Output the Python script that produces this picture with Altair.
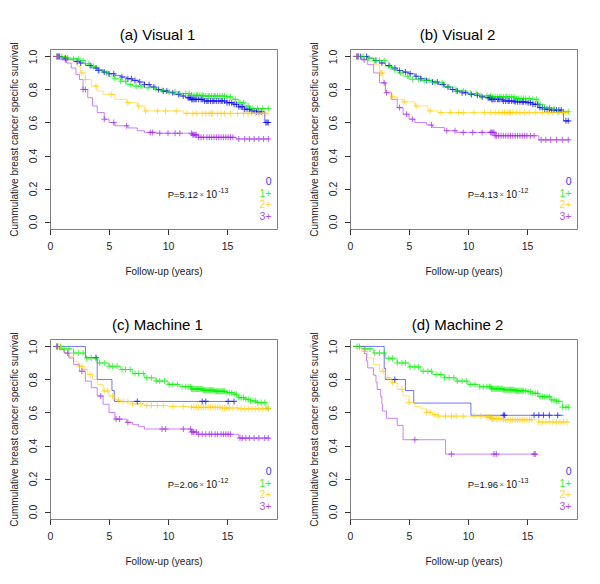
import altair as alt
import pandas as pd

FONT = "Liberation Sans"
GROUPS = ["0", "1+", "2+", "3+"]
COLORS = ["#0000FF", "#00F000", "#FFCC00", "#A020F0"]
TITLES = ["(a) Visual 1", "(b) Visual 2", "(c) Machine 1", "(d) Machine 2"]
P_MANT = ["P=5.12", "P=4.13", "P=2.06", "P=1.96"]
P_EXP = ["-13", "-12", "-12", "-13"]
X_TICKS = [0, 5, 10, 15]
Y_TICKS = [0.0, 0.2, 0.4, 0.6, 0.8, 1.0]

# ---------- (a) Visual 1 ----------
a0_t = [0.25, 1.0, 1.5, 2.0, 2.5, 3.0, 3.5, 4.0, 4.5, 5.0, 5.5, 6.0, 6.5, 7.0, 7.5, 8.0, 8.5, 9.0, 9.5, 10.0, 10.5, 11.0, 11.5, 12.0, 13.0, 15.0, 15.5, 16.0, 16.5, 17.0, 17.5, 18.2, 18.6]
a0_s = [1.0, 0.99, 0.98, 0.97, 0.96, 0.945, 0.93, 0.915, 0.905, 0.895, 0.885, 0.875, 0.865, 0.855, 0.845, 0.83, 0.815, 0.80, 0.79, 0.78, 0.77, 0.76, 0.75, 0.74, 0.73, 0.72, 0.71, 0.695, 0.68, 0.67, 0.665, 0.60, 0.60]
a0_c = [0.6, 0.7, 0.8, 1.3, 2.3, 2.6, 3.4, 3.9, 4.1, 4.6, 5.0, 5.4, 6.1, 6.6, 6.9, 7.2, 7.6, 8.0, 8.4, 8.8, 9.2, 9.6, 9.9, 10.4, 10.9, 11.3, 11.7, 11.8, 11.9, 12.0, 12.1, 12.2, 12.3, 12.4, 12.6, 12.8, 12.9, 13.1, 13.3, 13.4, 13.6, 13.8, 13.9, 14.1, 14.3, 14.5, 14.6, 14.8, 15.0, 15.2, 15.4, 15.6, 15.8, 16.0, 16.2, 16.3, 16.5, 16.7, 16.9, 17.1, 17.3, 17.5, 17.7, 17.9, 18.3, 18.4, 18.5]
a1_t = [0.25, 1.5, 2.0, 2.5, 3.0, 3.5, 4.0, 4.5, 5.0, 5.5, 6.0, 6.5, 7.0, 8.0, 9.0, 10.0, 11.0, 12.0, 13.0, 15.0, 15.5, 16.0, 16.5, 17.0, 18.6]
a1_s = [1.0, 0.99, 0.985, 0.975, 0.955, 0.94, 0.92, 0.90, 0.88, 0.865, 0.85, 0.83, 0.82, 0.81, 0.795, 0.785, 0.775, 0.765, 0.76, 0.755, 0.74, 0.72, 0.70, 0.685, 0.685]
a1_c = [0.6, 1.0, 1.5, 2.0, 2.4, 2.8, 3.3, 3.7, 4.2, 4.8, 5.5, 6.0, 6.4, 6.8, 7.3, 7.7, 8.3, 8.9, 9.5, 10.1, 10.6, 11.0, 11.5, 11.8, 12.0, 12.2, 12.4, 12.5, 12.7, 12.9, 13.0, 13.2, 13.4, 13.5, 13.7, 13.9, 14.0, 14.2, 14.4, 14.6, 14.8, 15.0, 15.3, 15.7, 16.1, 16.4, 16.8, 17.2, 17.6, 18.0, 18.5]
a2_t = [0.25, 1.5, 2.0, 2.3, 2.6, 3.0, 3.5, 4.0, 4.5, 5.5, 6.5, 7.4, 8.0, 11.3, 18.6]
a2_s = [1.0, 0.98, 0.96, 0.94, 0.90, 0.86, 0.82, 0.79, 0.77, 0.74, 0.72, 0.70, 0.67, 0.655, 0.655]
a2_c = [0.6, 2.7, 3.0, 3.9, 5.2, 6.6, 7.5, 8.1, 9.1, 9.8, 10.7, 11.6, 12.1, 12.4, 12.9, 13.2, 13.5, 13.7, 13.8, 14.2, 14.5, 14.8, 15.3, 15.9, 16.4, 16.8, 17.1, 17.4, 17.7, 18.0, 18.3]
a3_t = [0.25, 0.9, 1.4, 1.8, 2.2, 2.5, 2.8, 3.2, 3.6, 4.0, 4.6, 5.0, 5.5, 6.6, 7.4, 8.0, 9.0, 12.1, 12.6, 15.8, 18.6]
a3_s = [1.0, 0.98, 0.96, 0.93, 0.89, 0.86, 0.80, 0.75, 0.70, 0.66, 0.62, 0.60, 0.58, 0.567, 0.55, 0.54, 0.535, 0.525, 0.51, 0.50, 0.50]
a3_c = [0.6, 1.3, 2.8, 3.0, 4.6, 5.4, 6.5, 8.5, 8.7, 9.3, 10.0, 10.6, 11.0, 12.0, 12.1, 12.2, 12.3, 12.4, 12.6, 12.8, 13.0, 13.3, 13.5, 13.7, 13.9, 14.1, 14.3, 14.5, 14.7, 14.9, 15.1, 15.3, 15.5, 16.0, 16.5, 16.9, 17.3, 17.7, 18.1, 18.5]

# ---------- (b) Visual 2 ----------
b0_t = [0.25, 1.5, 2.0, 2.5, 3.0, 3.5, 4.0, 4.5, 5.0, 5.5, 6.0, 6.5, 7.0, 7.5, 8.0, 8.5, 9.0, 9.5, 10.0, 10.5, 11.0, 11.5, 12.0, 13.0, 14.0, 15.0, 15.5, 16.0, 16.5, 17.0, 18.1, 18.6]
b0_s = [1.0, 0.99, 0.975, 0.96, 0.945, 0.93, 0.915, 0.905, 0.895, 0.88, 0.865, 0.855, 0.845, 0.83, 0.815, 0.80, 0.79, 0.78, 0.77, 0.765, 0.755, 0.75, 0.74, 0.73, 0.725, 0.72, 0.71, 0.69, 0.68, 0.675, 0.61, 0.61]
b0_c = [0.6, 0.7, 0.9, 1.4, 2.2, 2.7, 3.3, 3.8, 4.2, 4.7, 5.1, 5.6, 6.0, 6.5, 7.0, 7.4, 7.9, 8.3, 8.7, 9.1, 9.5, 9.8, 10.3, 10.8, 11.2, 11.7, 11.8, 11.9, 12.0, 12.1, 12.2, 12.3, 12.5, 12.6, 12.7, 12.9, 13.0, 13.2, 13.4, 13.5, 13.7, 13.9, 14.0, 14.2, 14.4, 14.6, 14.7, 14.9, 15.1, 15.3, 15.5, 15.7, 15.9, 16.1, 16.3, 16.5, 16.7, 16.9, 17.1, 17.3, 17.5, 17.7, 17.9, 18.3, 18.5]
b1_t = [0.25, 1.5, 2.0, 3.0, 3.5, 4.0, 4.5, 5.0, 6.0, 7.0, 8.0, 9.0, 10.0, 11.0, 12.0, 14.0, 15.5, 16.0, 16.5, 17.0, 17.5, 18.6]
b1_s = [1.0, 0.99, 0.975, 0.94, 0.92, 0.90, 0.88, 0.862, 0.855, 0.84, 0.815, 0.79, 0.775, 0.762, 0.755, 0.745, 0.74, 0.71, 0.69, 0.68, 0.665, 0.665]
b1_c = [0.6, 1.1, 1.6, 2.1, 2.5, 2.9, 3.4, 3.8, 4.3, 4.9, 5.3, 5.8, 6.3, 6.7, 7.2, 7.8, 8.4, 9.0, 9.6, 10.2, 10.7, 11.1, 11.6, 11.9, 12.1, 12.3, 12.5, 12.7, 12.8, 13.0, 13.2, 13.3, 13.5, 13.7, 13.9, 14.1, 14.3, 14.5, 14.7, 14.9, 15.2, 15.5, 15.8, 16.1, 16.5, 16.9, 17.3, 17.7, 18.1, 18.5]
b2_t = [0.25, 1.2, 1.6, 2.0, 2.5, 2.8, 3.0, 3.5, 4.0, 4.5, 5.5, 6.6, 7.5, 18.6]
b2_s = [1.0, 0.985, 0.97, 0.95, 0.90, 0.84, 0.79, 0.755, 0.74, 0.725, 0.70, 0.67, 0.66, 0.66]
b2_c = [0.6, 2.6, 2.7, 3.6, 4.6, 5.6, 6.8, 7.7, 8.5, 9.2, 9.6, 10.5, 11.4, 11.9, 12.3, 12.6, 12.9, 13.1, 13.3, 13.5, 13.6, 13.8, 14.1, 14.4, 14.8, 15.2, 15.7, 16.3, 16.8, 17.2, 17.6, 18.0, 18.3]
b3_t = [0.25, 1.0, 1.5, 2.0, 2.5, 3.0, 3.5, 4.0, 4.5, 5.0, 5.5, 6.5, 7.0, 8.0, 9.0, 12.3, 16.0, 18.6]
b3_s = [1.0, 0.98, 0.95, 0.90, 0.84, 0.78, 0.74, 0.69, 0.65, 0.62, 0.60, 0.585, 0.57, 0.55, 0.54, 0.52, 0.495, 0.495]
b3_c = [0.6, 1.2, 2.9, 3.1, 4.2, 4.8, 5.3, 6.9, 8.2, 8.9, 9.6, 10.4, 11.2, 11.9, 12.0, 12.1, 12.2, 12.3, 12.4, 12.6, 12.8, 13.0, 13.2, 13.4, 13.6, 13.8, 14.0, 14.2, 14.4, 14.6, 14.8, 15.0, 15.3, 15.6, 16.2, 16.6, 17.0, 17.5, 18.0, 18.5]

# ---------- (c) Machine 1 ----------
c0_t = [0.25, 3.0, 4.0, 5.25, 5.45, 15.6]
c0_s = [1.0, 0.933, 0.80, 0.733, 0.667, 0.667]
c0_c = [0.6, 3.9, 7.4, 12.9, 13.2, 15.1, 15.6]
c1_t = [0.25, 1.0, 2.0, 3.0, 4.0, 5.0, 6.0, 7.0, 8.0, 9.0, 10.0, 11.0, 12.0, 13.0, 14.0, 15.0, 15.5, 16.0, 16.5, 17.0, 17.5, 18.3, 18.6]
c1_s = [1.0, 0.985, 0.96, 0.93, 0.90, 0.88, 0.86, 0.836, 0.81, 0.79, 0.77, 0.756, 0.742, 0.735, 0.728, 0.72, 0.71, 0.69, 0.68, 0.67, 0.66, 0.625, 0.625]
c1_c = [0.6, 0.9, 1.2, 1.6, 2.0, 2.4, 2.8, 3.1, 3.5, 3.9, 4.2, 4.6, 5.0, 5.3, 5.7, 6.1, 6.4, 6.8, 7.2, 7.5, 7.9, 8.2, 8.6, 9.0, 9.3, 9.7, 10.1, 10.4, 10.8, 11.2, 11.5, 11.7, 11.9, 12.0, 12.1, 12.2, 12.3, 12.4, 12.5, 12.6, 12.7, 12.8, 12.9, 13.0, 13.1, 13.2, 13.3, 13.4, 13.5, 13.6, 13.7, 13.8, 13.9, 14.0, 14.1, 14.2, 14.3, 14.4, 14.5, 14.6, 14.7, 14.8, 15.0, 15.2, 15.4, 15.6, 15.8, 16.0, 16.2, 16.4, 16.6, 16.8, 17.0, 17.2, 17.4, 17.6, 17.9, 18.2, 18.5]
c2_t = [0.25, 0.8, 1.2, 1.6, 2.0, 2.4, 2.8, 3.2, 3.6, 4.0, 4.5, 5.0, 5.5, 6.0, 7.0, 8.0, 10.0, 12.0, 14.5, 16.0, 18.6]
c2_s = [1.0, 0.985, 0.96, 0.94, 0.91, 0.88, 0.86, 0.83, 0.80, 0.77, 0.73, 0.70, 0.676, 0.666, 0.652, 0.642, 0.636, 0.632, 0.627, 0.622, 0.622]
c2_c = [0.7, 2.5, 2.7, 2.9, 3.4, 4.6, 4.9, 5.3, 5.8, 6.2, 6.6, 7.0, 7.7, 8.2, 8.6, 9.1, 9.6, 10.4, 11.3, 12.0, 12.2, 12.4, 12.6, 12.8, 13.0, 13.2, 13.4, 13.6, 13.8, 14.0, 14.2, 14.4, 14.6, 14.8, 15.0, 15.2, 15.5, 15.9, 16.2, 16.5, 16.8, 17.1, 17.4, 17.7, 18.0, 18.3, 18.5]
c3_t = [0.25, 0.8, 1.2, 1.6, 2.0, 2.5, 3.0, 3.5, 4.0, 4.5, 5.0, 5.5, 6.5, 7.0, 7.5, 8.0, 12.0, 12.5, 16.0, 18.6]
c3_s = [1.0, 0.98, 0.96, 0.93, 0.89, 0.85, 0.79, 0.75, 0.70, 0.65, 0.60, 0.56, 0.54, 0.528, 0.516, 0.50, 0.482, 0.468, 0.445, 0.445]
c3_c = [0.6, 1.5, 2.7, 4.3, 5.6, 5.9, 6.6, 9.5, 9.8, 11.3, 11.9, 12.0, 12.1, 12.2, 12.4, 12.6, 12.9, 13.2, 13.5, 13.7, 14.0, 14.2, 14.5, 14.7, 14.9, 15.1, 15.3, 16.1, 16.3, 16.6, 16.9, 17.3, 17.7, 18.2, 18.5]

# ---------- (d) Machine 2 ----------
d0_t = [0.25, 2.9, 3.0, 4.7, 5.4, 10.25, 18.1]
d0_s = [1.0, 0.867, 0.80, 0.733, 0.657, 0.583, 0.583]
d0_c = [3.8, 13.0, 13.1, 15.6, 16.0, 16.4, 16.9, 17.6]
d1_t = [0.25, 1.0, 2.0, 3.0, 4.0, 5.0, 6.0, 7.0, 8.0, 9.0, 10.0, 11.0, 12.0, 13.0, 14.0, 15.0, 15.5, 16.0, 17.0, 17.5, 18.0, 18.6]
d1_s = [1.0, 0.985, 0.96, 0.928, 0.90, 0.876, 0.85, 0.83, 0.81, 0.79, 0.77, 0.756, 0.744, 0.738, 0.732, 0.726, 0.716, 0.696, 0.676, 0.668, 0.632, 0.632]
d1_c = [0.6, 0.8, 1.3, 1.7, 2.1, 2.5, 2.9, 3.3, 3.6, 4.0, 4.4, 4.7, 5.1, 5.5, 5.8, 6.2, 6.6, 6.9, 7.3, 7.7, 8.0, 8.4, 8.8, 9.1, 9.5, 9.9, 10.2, 10.6, 11.0, 11.3, 11.6, 11.8, 11.9, 12.0, 12.1, 12.2, 12.3, 12.4, 12.5, 12.6, 12.7, 12.8, 12.9, 13.0, 13.1, 13.2, 13.3, 13.4, 13.5, 13.6, 13.7, 13.8, 13.9, 14.0, 14.1, 14.2, 14.3, 14.4, 14.5, 14.6, 14.7, 14.9, 15.1, 15.3, 15.5, 15.7, 15.9, 16.1, 16.3, 16.5, 16.7, 16.9, 17.1, 17.3, 17.5, 17.7, 18.0, 18.3, 18.5]
d2_t = [0.25, 0.8, 1.0, 1.5, 2.0, 2.5, 3.0, 3.5, 4.0, 4.5, 5.0, 5.5, 6.0, 6.5, 7.0, 7.5, 11.5, 12.0, 13.0, 16.0, 18.6]
d2_s = [1.0, 0.985, 0.97, 0.93, 0.89, 0.85, 0.81, 0.78, 0.74, 0.70, 0.66, 0.636, 0.622, 0.60, 0.588, 0.578, 0.572, 0.562, 0.556, 0.542, 0.542]
d2_c = [1.3, 2.8, 3.2, 3.6, 4.4, 5.0, 6.5, 6.8, 7.2, 7.5, 8.1, 8.6, 9.0, 9.6, 10.5, 11.1, 11.6, 11.8, 11.9, 12.0, 12.1, 12.2, 12.4, 12.6, 12.8, 13.0, 13.2, 13.4, 13.6, 13.8, 14.0, 14.2, 14.4, 14.6, 14.8, 15.0, 15.2, 15.4, 16.0, 16.3, 16.6, 16.9, 17.2, 17.5, 17.8, 18.1, 18.4]
d3_t = [0.25, 1.2, 1.4, 1.5, 2.0, 2.2, 2.3, 2.6, 2.7, 2.75, 3.1, 4.0, 4.5, 8.1, 15.8]
d3_s = [1.0, 0.957, 0.913, 0.87, 0.826, 0.783, 0.739, 0.696, 0.652, 0.609, 0.565, 0.522, 0.435, 0.348, 0.348]
d3_c = [5.5, 8.6, 12.2, 12.4, 15.6, 15.7]

PANELS = [
    [(a0_t, a0_s, a0_c), (a1_t, a1_s, a1_c), (a2_t, a2_s, a2_c), (a3_t, a3_s, a3_c)],
    [(b0_t, b0_s, b0_c), (b1_t, b1_s, b1_c), (b2_t, b2_s, b2_c), (b3_t, b3_s, b3_c)],
    [(c0_t, c0_s, c0_c), (c1_t, c1_s, c1_c), (c2_t, c2_s, c2_c), (c3_t, c3_s, c3_c)],
    [(d0_t, d0_s, d0_c), (d1_t, d1_s, d1_c), (d2_t, d2_s, d2_c), (d3_t, d3_s, d3_c)],
]

W, H = 227, 180
PLUS = "M-1,0L1,0M0,-1L0,1"


def step_at(ts, ss, c):
    v = ss[0]
    for t, s in zip(ts, ss):
        if t <= c:
            v = s
        else:
            break
    return v


def make_panel(k):
    line_rows, cens_rows = [], []
    for g, (ts, ss, cs) in enumerate(PANELS[k]):
        for i, (t, s) in enumerate(zip(ts, ss)):
            line_rows.append({"group": GROUPS[g], "t": t, "s": s, "i": i})
        for c in cs:
            cens_rows.append({"group": GROUPS[g], "t": c, "s": step_at(ts, ss, c)})
    df_l = pd.DataFrame(line_rows)
    df_c = pd.DataFrame(cens_rows)

    x = alt.X("t:Q", scale=alt.Scale(domain=[0, 19.24], nice=False, zero=False),
              axis=alt.Axis(values=X_TICKS, grid=False, domain=False, tickSize=5.5,
                            tickColor="#333", labelColor="#222", labelFont=FONT,
                            labelFontSize=10.5, labelPadding=7, labelFlush=False,
                            title="Follow-up (years)", titleFont=FONT, titleFontSize=10,
                            titleFontWeight="normal", titleColor="#222",
                            titleY=42.5, titleBaseline="middle"))
    y = alt.Y("s:Q", scale=alt.Scale(domain=[-0.045, 1.045], nice=False, zero=False),
              axis=alt.Axis(values=Y_TICKS, format=".1f", grid=False, domain=False,
                            tickSize=5.5, tickColor="#333", labelColor="#222",
                            labelFont=FONT, labelFontSize=10.5, labelAngle=270,
                            labelAlign="center", labelBaseline="bottom", labelPadding=6.5,
                            labelFlush=False,
                            title="Cummulative breast cancer specific survival",
                            titleFont=FONT, titleFontSize=10, titleFontWeight="normal",
                            titleColor="#222", titleAngle=270, titleX=-35.5,
                            titleY=H / 2, titleAlign="center", titleBaseline="middle"))
    color = alt.Color("group:N", scale=alt.Scale(domain=GROUPS, range=COLORS), legend=None)

    lines = alt.Chart(df_l).mark_line(interpolate="step-after", strokeWidth=1,
                                      opacity=0.55).encode(x=x, y=y, color=color,
                                                           order="i:Q")
    pts = alt.Chart(df_c).mark_point(shape=PLUS, size=36, filled=False, strokeWidth=1.1,
                                     opacity=0.65).encode(x=x, y=y, color=color)

    one = pd.DataFrame({"k": [0]})
    texts = []
    texts.append(alt.Chart(one).mark_text(font=FONT, fontSize=15, align="center",
                                          baseline="alphabetic", color="#000").encode(
        x=alt.value(W / 2 - 6), y=alt.value(-9.5), text=alt.value(TITLES[k])))
    for g, lab in enumerate(GROUPS):
        texts.append(alt.Chart(one).mark_text(font=FONT, fontSize=10.5, align="right",
                                              baseline="middle", color=COLORS[g],
                                              opacity=0.8).encode(
            x=alt.value(221.5), y=alt.value(133 + g * 11.7), text=alt.value(lab)))
    texts.append(alt.Chart(one).mark_text(font=FONT, fontSize=9.5, align="left",
                                          baseline="alphabetic", color="#111").encode(
        x=alt.value(117.7), y=alt.value(149), text=alt.value(P_MANT[k])))
    texts.append(alt.Chart(one).mark_text(font=FONT, fontSize=7.5, align="center",
                                          baseline="alphabetic", color="#666").encode(
        x=alt.value(151.8), y=alt.value(148), text=alt.value("×")))
    texts.append(alt.Chart(one).mark_text(font=FONT, fontSize=10, align="left",
                                          baseline="alphabetic", color="#111").encode(
        x=alt.value(156), y=alt.value(149), text=alt.value("10")))
    texts.append(alt.Chart(one).mark_text(font=FONT, fontSize=7, align="left",
                                          baseline="alphabetic", color="#111").encode(
        x=alt.value(168.2), y=alt.value(143.5), text=alt.value(P_EXP[k])))

    return alt.layer(lines, pts, *texts).properties(width=W, height=H)


row1 = alt.hconcat(make_panel(0), make_panel(1), spacing=30)
row2 = alt.hconcat(make_panel(2), make_panel(3), spacing=30)
chart = alt.vconcat(row1, row2, spacing=40).properties(
    padding={"left": 0, "top": 19, "right": 0, "bottom": 0}
).configure_view(stroke="#808080", strokeWidth=1)

chart.save("out.html", embed_options={"renderer": "svg", "actions": False})
